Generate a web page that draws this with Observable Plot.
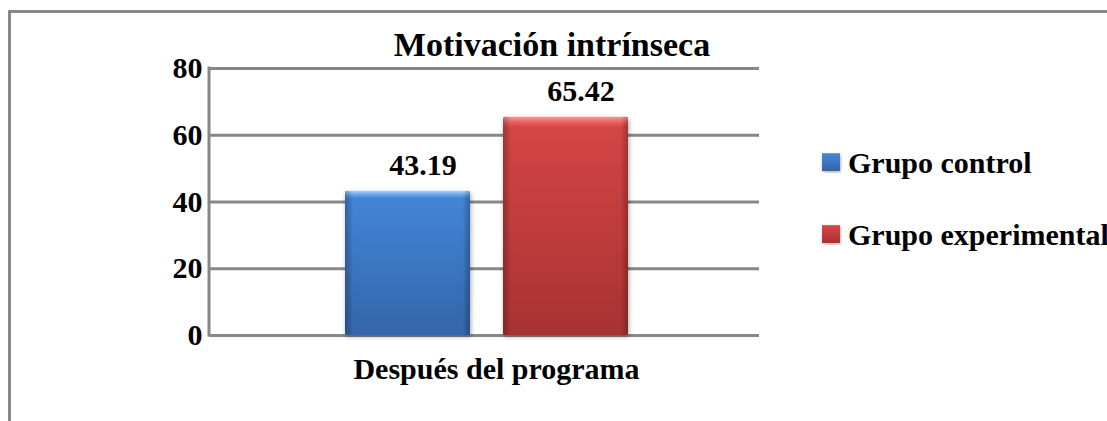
<!DOCTYPE html>
<html>
<head>
<meta charset="utf-8">
<script src="https://cdn.jsdelivr.net/npm/d3@7"></script>
<script src="https://cdn.jsdelivr.net/npm/@observablehq/plot@0.6"></script>
<style>
  html, body { margin: 0; padding: 0; background: #fff; overflow: hidden; }
  #wrap { position: relative; width: 1107px; height: 421px; }
  #border { position: absolute; left: 8px; top: 10px; width: 1120px; height: 430px;
            border-top: 3px solid #888; border-left: 3px solid #888; }
  #chart { position: absolute; left: 0; top: 0; }
</style>
</head>
<body>
<div id="wrap">
  <div id="border"></div>
  <div id="chart"></div>
</div>
<script>
const title = "Motivación intrínseca";
const categories = ["Después del programa"];
const groups = ["Grupo control", "Grupo experimental"];
const values = [43.19, 65.42];
const yTicks = [0, 20, 40, 60, 80];
const gradIds = ["gBlue", "gRed"];

const data = groups.map((g, i) => ({category: categories[0], group: g, value: values[i]}));

const font = "'Liberation Serif', 'Times New Roman', serif";

function defs() {
  const d = d3.create("svg:defs");
  const specs = [
    {id: "gBlue", stops: [[0, "#a9d3fa"], [0.025, "#6aaaea"], [0.05, "#4285d6"], [1, "#3465aa"]]},
    {id: "gRed", stops: [[0, "#f79a9a"], [0.025, "#e86060"], [0.05, "#d44545"], [1, "#a83232"]]}
  ];
  for (const s of specs) {
    const g = d.append("linearGradient").attr("id", s.id).attr("x1", 0).attr("y1", 0).attr("x2", 0).attr("y2", 1);
    for (const [o, c] of s.stops) g.append("stop").attr("offset", o).attr("stop-color", c);
  }
  const h = d.append("linearGradient").attr("id", "hShade").attr("x1", 0).attr("y1", 0).attr("x2", 1).attr("y2", 0);
  [[0, "rgba(0,0,0,0.22)"], [0.06, "rgba(0,0,0,0)"], [0.94, "rgba(0,0,0,0)"], [1, "rgba(0,0,0,0.22)"]]
    .forEach(([o, c]) => h.append("stop").attr("offset", o).attr("stop-color", c));
  const f = d.append("filter").attr("id", "shadow").attr("x", "-10%").attr("y", "-10%").attr("width", "120%").attr("height", "120%");
  f.append("feDropShadow").attr("dx", 1).attr("dy", 2).attr("stdDeviation", 2).attr("flood-color", "#000").attr("flood-opacity", 0.3);
  return d.node();
}

function leftAxisLine(index, scales, values, dimensions) {
  const x = dimensions.marginLeft;
  const [y0, y1] = [scales.y(yTicks[0]), scales.y(yTicks[yTicks.length - 1])];
  return d3.create("svg:line").attr("x1", x).attr("x2", x).attr("y1", y0 + 1.5).attr("y2", y1 - 1.5)
    .attr("stroke", "#878787").attr("stroke-width", 3).node();
}

const barMarks = groups.map((g, i) => [
  Plot.barY(data.filter(d => d.group === g), {fx: "category", x: "group", y: "value", fill: `url(#${gradIds[i]})`, rx: 2}),
  Plot.barY(data.filter(d => d.group === g), {fx: "category", x: "group", y: "value", fill: "url(#hShade)"})
]).flat();

const chart = Plot.plot({
  width: 1107,
  height: 421,
  marginLeft: 209,
  marginRight: 348,
  marginTop: 68,
  marginBottom: 86,
  style: {fontFamily: font, fontWeight: "bold", fontSize: "30px", color: "#000", background: "transparent", overflow: "visible"},
  fx: {domain: categories, padding: 0, label: null, axis: null},
  x: {domain: groups, paddingInner: 0.209, paddingOuter: 0.845, align: 0.51, axis: null},
  y: {domain: [0, 80], ticks: yTicks, label: null, tickSize: 0, tickPadding: 7},
  marks: [
    defs,
    Plot.ruleY(yTicks, {stroke: "#878787", strokeWidth: 3}),
    leftAxisLine,
    ...barMarks,
    Plot.text(data, {fx: "category", x: "group", y: "value", text: d => d.value.toFixed(2),
      lineAnchor: "bottom", dy: -16, dx: 15, fontSize: 30, fontWeight: "bold", fill: "#000"}),
    Plot.axisFx({domain: categories, anchor: "bottom", tickSize: 0, tickPadding: 22, dx: 12, label: null,
      fontSize: 30, fontWeight: "bold"})
  ]
});

chart.querySelectorAll('g[aria-label="bar"]').forEach(g => g.setAttribute("filter", "url(#shadow)"));

const svg = d3.select(chart);
svg.append("text").attr("x", 552).attr("y", 56).attr("text-anchor", "middle")
  .attr("font-family", font).attr("font-weight", "bold").attr("font-size", 34).attr("fill", "#000").text(title);

const legend = svg.append("g").attr("text-anchor", "start");
groups.forEach((g, i) => {
  const y = 173 + i * 72;
  legend.append("rect").attr("x", 822).attr("y", y - 20).attr("width", 18).attr("height", 18)
    .attr("fill", `url(#${gradIds[i]})`).attr("filter", "url(#shadow)");
  legend.append("text").attr("x", 848).attr("y", y).attr("text-anchor", "start").attr("font-family", font)
    .attr("font-weight", "bold").attr("font-size", 30).attr("fill", "#000").text(g);
});

document.getElementById("chart").appendChild(chart);
</script>
</body>
</html>
